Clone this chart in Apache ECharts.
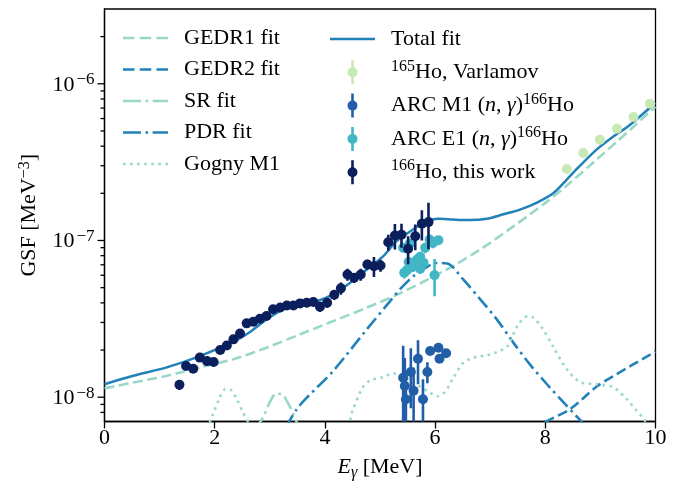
<!DOCTYPE html>
<html><head><meta charset="utf-8">
<script src="https://cdn.jsdelivr.net/npm/echarts@6/dist/echarts.min.js"></script>
<style>html,body{margin:0;padding:0;background:#fff}#c{width:689px;height:488px}</style>
</head><body><div id="c"></div>
<script>
// ---------- data ----------
const thisWorkE = [1.36,1.48,1.61,1.73,1.86,1.98,2.10,2.22,2.34,2.46,2.58,2.70,2.82,2.94,3.06,3.19,3.31,3.43,3.55,3.67,3.79,3.91,4.04,4.17,4.29,4.41,4.53,4.65,4.77,4.89,5.01,5.15,5.27,5.39,5.51,5.64,5.76,5.88];
const thisWorkV = [1.20e-8,1.58e-8,1.52e-8,1.79e-8,1.70e-8,1.68e-8,2.00e-8,2.14e-8,2.34e-8,2.55e-8,2.96e-8,3.03e-8,3.17e-8,3.30e-8,3.64e-8,3.74e-8,3.85e-8,3.85e-8,3.97e-8,4.01e-8,4.05e-8,3.78e-8,4.01e-8,4.51e-8,4.95e-8,6.07e-8,5.78e-8,6.07e-8,7.03e-8,6.86e-8,6.93e-8,9.75e-8,1.076e-7,1.09e-7,8.85e-8,1.065e-7,1.28e-7,1.31e-7];
const thisWorkErr = [0.09e-8,0.09e-8,0.09e-8,0.11e-8,0.10e-8,0.10e-8,0.12e-8,0.13e-8,0.14e-8,0.15e-8,0.17e-8,0.18e-8,0.19e-8,0.19e-8,0.21e-8,0.22e-8,0.23e-8,0.23e-8,0.23e-8,0.24e-8,0.24e-8,0.28e-8,0.29e-8,0.33e-8,0.44e-8,0.53e-8,0.42e-8,0.53e-8,0.51e-8,1.0e-8,0.61e-8,1.14e-8,2.0e-8,1.9e-8,1.8e-8,2.0e-8,2.8e-8,4.3e-8];

const varlamovE = [8.39,8.69,8.99,9.30,9.60,9.90];
const varlamovV = [2.86e-7,3.62e-7,4.40e-7,5.17e-7,6.14e-7,7.46e-7];
const varlamovErr = [0.08e-7,0.1e-7,0.12e-7,0.14e-7,0.16e-7,0.2e-7];

const arcM1E = [5.42,5.45,5.47,5.56,5.61,5.69,5.78,5.86,5.91,6.06,6.20,6.08];
const arcM1V = [1.33e-8,1.18e-8,0.97e-8,1.45e-8,1.10e-8,1.76e-8,0.97e-8,1.45e-8,1.97e-8,2.07e-8,1.91e-8,1.76e-8];
const arcM1Err = [0.80e-8,0.60e-8,0.50e-8,0.60e-8,0.45e-8,0.55e-8,0.33e-8,0.22e-8,0.1e-8,0.1e-8,0.1e-8,0.1e-8];

const arcE1E = [5.42,5.54,5.52,5.67,5.73,5.79,5.60,5.73,5.44,5.49,5.82,5.90,6.06,5.99,5.96];
const arcE1V = [8.98e-8,9.53e-8,7.28e-8,7.57e-8,7.87e-8,7.21e-8,6.80e-8,6.61e-8,6.22e-8,6.47e-8,8.98e-8,1.015e-7,1.005e-7,6.01e-8,9.64e-8];
const arcE1Err = [0.6e-8,0.7e-8,0.5e-8,0.5e-8,0.6e-8,0.5e-8,0.5e-8,0.5e-8,0.5e-8,0.5e-8,0.7e-8,0.7e-8,0.6e-8,1.6e-8,0.7e-8];

const totalE = [0,0.52,1.13,1.73,2.34,2.64,2.94,3.25,3.55,3.85,4.15,4.46,4.76,5.06,5.30,5.60,5.79,6.06,6.33,6.63,6.94,7.24,7.54,7.84,8.15,8.39,8.63,8.93,9.23,9.54,10.0];
const totalV = [1.21e-8,1.37e-8,1.55e-8,1.83e-8,2.26e-8,2.61e-8,3.14e-8,3.64e-8,3.91e-8,4.10e-8,4.53e-8,5.38e-8,6.53e-8,7.94e-8,9.9e-8,1.175e-7,1.30e-7,1.375e-7,1.36e-7,1.35e-7,1.375e-7,1.47e-7,1.575e-7,1.74e-7,2.01e-7,2.45e-7,3.0e-7,3.80e-7,4.59e-7,5.48e-7,7.57e-7];

const gedr1E = [0,0.52,1.13,1.73,2.34,2.94,3.55,4.15,4.76,5.36,6.21,6.82,7.42,8.03,8.39,8.93,9.54,10.0];
const gedr1V = [1.14e-8,1.24e-8,1.37e-8,1.55e-8,1.75e-8,2.07e-8,2.52e-8,3.06e-8,3.73e-8,4.60e-8,6.53e-8,8.77e-8,1.23e-7,1.77e-7,2.24e-7,3.28e-7,5.09e-7,7.14e-7];

const gedr2E = [7.80,8.00,8.45,8.94,9.23,10.0];
const gedr2V = [6.0e-9,6.93e-9,8.39e-9,1.175e-8,1.36e-8,1.96e-8];

const srE = [2.73,2.88,3.00,3.11,3.22,3.33,3.42,3.51];
const srV = [6.25e-9,7.46e-9,9.29e-9,1.052e-8,1.045e-8,9.16e-9,7.91e-9,6.64e-9];

const pdrE = [3.29,3.49,3.68,4.15,4.76,5.18,5.36,5.60,5.82,6.03,6.22,6.51,6.82,7.12,7.42,7.72,8.03,8.39,8.67];
const pdrV = [6.44e-9,8.39e-9,1.0e-8,1.47e-8,2.71e-8,4.09e-8,4.87e-8,5.90e-8,6.68e-8,7.19e-8,7.14e-8,5.65e-8,4.21e-8,3.14e-8,2.23e-8,1.62e-8,1.21e-8,8.81e-9,6.93e-9];

const gognyE = [1.86,1.97,2.08,2.19,2.30,2.41,2.51,2.62,2.75,3.55,4.37,4.51,4.69,4.82,5.05,5.24,5.45,5.69,5.91,6.03,6.18,6.33,6.51,6.63,6.78,6.94,7.12,7.31,7.49,7.67,7.78,7.96,8.14,8.39,8.63,8.94,9.23,9.48,9.65,9.76,9.86];
const gognyV = [6.25e-9,7.80e-9,9.71e-9,1.125e-8,1.109e-8,9.57e-9,8.02e-9,6.83e-9,5.81e-9,5.40e-9,6.25e-9,8.39e-9,1.16e-8,1.28e-8,1.34e-8,1.42e-8,1.34e-8,1.19e-8,1.07e-8,1.014e-8,1.08e-8,1.33e-8,1.66e-8,1.75e-8,1.82e-8,1.85e-8,1.94e-8,2.11e-8,2.83e-8,3.28e-8,3.23e-8,2.71e-8,2.11e-8,1.51e-8,1.25e-8,1.21e-8,1.16e-8,9.71e-9,8.26e-9,7.46e-9,6.64e-9];

const xTicks = [0,2,4,6,8,10];
const yMajorTicks = [1e-8,1e-7,1e-6];
const yMajorLabels = ['10{s|−8}','10{s|−7}','10{s|−6}'];
const yMinorTicks = [8e-9,9e-9,2e-8,3e-8,4e-8,5e-8,6e-8,7e-8,8e-8,9e-8,2e-7,3e-7,4e-7,5e-7,6e-7,7e-7,8e-7,9e-7,2e-6];

// ---------- styles ----------
const F = 'Liberation Serif';
const FS = 22;
const MINT = '#99d8c9', BLUE = '#2181b9';
const C_VAR = '#c7e9b4', C_M1 = '#225ea8', C_E1 = '#41b6c4', C_TW = '#0a1f5c';
const supRich = {fontSize:16, fontFamily:F, color:'#000', verticalAlign:'bottom', padding:[0,0,10,0]};
const tickSupRich = {fontSize:17, fontFamily:F, color:'#000', verticalAlign:'bottom', padding:[0,0,10,2]};

const zip = (a,b) => a.map((v,i)=>[v,b[i]]);
const zip3 = (a,b,c) => a.map((v,i)=>[v,b[i],c[i]]);

function errRender(params, api){
  const x = api.value(0), y = api.value(1), e = api.value(2);
  const lo = Math.max(y - e, 1e-12);
  const p1 = api.coord([x, y + e]);
  const p2 = api.coord([x, lo]);
  return {type:'line', shape:{x1:p1[0], y1:p1[1], x2:p2[0], y2:p2[1]},
          style:{stroke: api.visual('color'), lineWidth: 2.6}};
}
function lineSeries(name, E, V, color, dash, z){
  return {name, type:'line', data: zip(E,V), showSymbol:false, symbol:'none', smooth:0.3,
    z, clip:true, lineStyle:{color, width: name==='Total fit'?2.5:2.6, type: dash, cap:'butt'},
    itemStyle:{color, borderWidth:0}, emphasis:{disabled:true}};
}
function errSeries(E,V,Err,color,z){
  return {type:'custom', data: zip3(E,V,Err), renderItem: errRender, clip:true, z, silent:true,
          itemStyle:{color}, encode:{x:0,y:1}};
}
function ptSeries(name,E,V,color,z){
  return {name, type:'scatter', data: zip(E,V), symbol:'circle', symbolSize:10, z,
          itemStyle:{color, opacity:1, borderWidth:0}, emphasis:{disabled:true}};
}

// legend icon shapes (line samples and error-bar markers)
const ERR_ICON = 'path://M3.7,0 L6.3,0 L6.3,24 L3.7,24 Z M0,12 A5,5 0 1 1 10,12 A5,5 0 1 1 0,12 Z';
const SOLID_ICON = 'path://M0,0 H45 V2.5 H0 Z';
const DASH_ICON = 'path://M0,0 H11.5 V2.6 H0 Z M16.75,0 H28.25 V2.6 H16.75 Z M33.5,0 H45 V2.6 H33.5 Z';
const DASHDOT_ICON = 'path://M0,0 H18 V2.6 H0 Z M22.5,0 H25.1 V2.6 H22.5 Z M29.6,0 H45 V2.6 H29.6 Z';
const DOT_ICON = 'path://' + [0,1,2,3,4,5,6].map(i => {const x=(i*7.07).toFixed(2); return 'M'+x+',0 h2.6 v2.6 h-2.6 Z';}).join(' ');

const legendNames = {
  'GEDR1 fit':'GEDR1 fit','GEDR2 fit':'GEDR2 fit','SR fit':'SR fit','PDR fit':'PDR fit','Gogny M1':'Gogny M1',
  'Total fit':'Total fit',
  'Varlamov':'{s|165}Ho, Varlamov',
  'ARC M1':'ARC M1 ({i|n}, {i|γ}){s|166}Ho',
  'ARC E1':'ARC E1 ({i|n}, {i|γ}){s|166}Ho',
  'this work':'{s|166}Ho, this work'
};
const legendRich = {p:{width:11}, s:supRich, i:{fontStyle:'italic', fontFamily:F, fontSize:FS, color:'#000'}};

function yTickRender(major){
  return function(params, api){
    const v = api.value(1);
    const p = api.coord([0, v]);
    const len = major ? 7 : 4;
    const children = [{type:'line', shape:{x1:p[0]-len, y1:p[1], x2:p[0], y2:p[1]},
                       style:{stroke:'#000', lineWidth:1.3}}];
    if (major) {
      children.push({type:'text', style:{text: yMajorLabels[params.dataIndex], x: p[0]-len-3, y: p[1]+1,
        align:'right', verticalAlign:'middle', fontFamily:F, fontSize:FS, fill:'#000',
        rich:{s:tickSupRich}}});
    }
    return {type:'group', children};
  };
}

const chart = echarts.init(document.getElementById('c'), null, {renderer:'canvas'});
chart.setOption({
  animation:false,
  backgroundColor:'#fff',
  textStyle:{fontFamily:F},
  grid:{left:104.5, top:9, width:551, height:412.5, show:true, borderColor:'#000', borderWidth:1.3, backgroundColor:'transparent'},
  xAxis:{type:'value', min:0, max:10, interval:2,
    axisLine:{show:true, onZero:false, lineStyle:{color:'#000', width:1.3}},
    axisTick:{show:true, length:7, lineStyle:{color:'#000', width:1.3}},
    axisLabel:{color:'#000', fontFamily:F, fontSize:FS, margin:6, customValues: xTicks},
    splitLine:{show:false},
    name:'{i|E}{g|γ} [MeV]', nameLocation:'middle', nameGap:33,
    nameTextStyle:{color:'#000', fontFamily:F, fontSize:FS,
      rich:{i:{fontStyle:'italic', fontFamily:F, fontSize:FS, color:'#000'},
            g:{fontStyle:'italic', fontFamily:F, fontSize:16, color:'#000', verticalAlign:'top', padding:[10,0,0,0]}}}
  },
  yAxis:{type:'log', logBase:10, min:7e-9, max:3e-6,
    axisLine:{show:true, lineStyle:{color:'#000', width:1.3}},
    axisTick:{show:false}, axisLabel:{show:false}, splitLine:{show:false}, minorTick:{show:false},
    name:'GSF [MeV{s|−3}]', nameLocation:'middle', nameGap:62, nameRotate:90,
    nameTextStyle:{color:'#000', fontFamily:F, fontSize:FS, rich:{s:supRich}}
  },
  legend:[
    {left:123, top:27, orient:'vertical', padding:0, itemWidth:45, itemHeight:14, itemGap:9.5,
     selectedMode:false, itemStyle:{borderWidth:0},
     data:[{name:'GEDR1 fit', icon:DASH_ICON},{name:'GEDR2 fit', icon:DASH_ICON},{name:'SR fit', icon:DASHDOT_ICON},
           {name:'PDR fit', icon:DASHDOT_ICON},{name:'Gogny M1', icon:DOT_ICON}],
     formatter: n => '{p| }' + legendNames[n],
     textStyle:{color:'#000', fontFamily:F, fontSize:FS, lineHeight:22, rich:legendRich}},
    {left:330, top:27, orient:'vertical', padding:0, itemWidth:45, itemHeight:24, itemGap:7.3,
     selectedMode:false, itemStyle:{borderWidth:0},
     data:[{name:'Total fit', icon:SOLID_ICON},{name:'Varlamov', icon:ERR_ICON},{name:'ARC M1', icon:ERR_ICON},{name:'ARC E1', icon:ERR_ICON},{name:'this work', icon:ERR_ICON}],
     formatter: n => '{p| }' + legendNames[n],
     textStyle:{color:'#000', fontFamily:F, fontSize:FS, lineHeight:24, rich:legendRich}}
  ],
  series:[
    lineSeries('GEDR1 fit', gedr1E, gedr1V, MINT, [10,4.5], 2),
    lineSeries('GEDR2 fit', gedr2E, gedr2V, BLUE, [10,4.5], 2),
    lineSeries('SR fit', srE, srV, MINT, [14,4.5,2.6,4.5], 2),
    lineSeries('PDR fit', pdrE, pdrV, BLUE, [14,4.5,2.6,4.5], 2),
    lineSeries('Gogny M1', gognyE, gognyV, MINT, [2.6,4.4], 2),
    lineSeries('Total fit', totalE, totalV, BLUE, 'solid', 3),
    errSeries(varlamovE, varlamovV, varlamovErr, C_VAR, 4),
    ptSeries('Varlamov', varlamovE, varlamovV, C_VAR, 4),
    errSeries(arcM1E, arcM1V, arcM1Err, C_M1, 5),
    ptSeries('ARC M1', arcM1E, arcM1V, C_M1, 5),
    errSeries(arcE1E, arcE1V, arcE1Err, C_E1, 6),
    ptSeries('ARC E1', arcE1E, arcE1V, C_E1, 6),
    errSeries(thisWorkE, thisWorkV, thisWorkErr, C_TW, 7),
    ptSeries('this work', thisWorkE, thisWorkV, C_TW, 7),
    {type:'custom', data: yMajorTicks.map(v=>[0,v]), renderItem: yTickRender(true), clip:false, silent:true, z:10, encode:{x:0,y:1}},
    {type:'custom', data: yMinorTicks.map(v=>[0,v]), renderItem: yTickRender(false), clip:false, silent:true, z:10, encode:{x:0,y:1}}
  ]
});
</script></body></html>
